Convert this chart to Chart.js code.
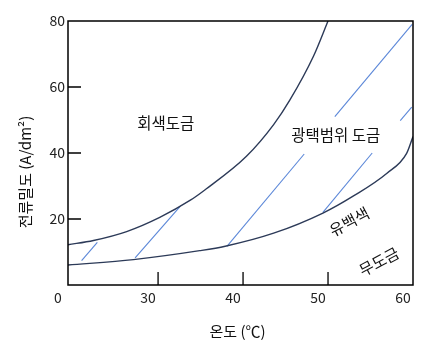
<!DOCTYPE html>
<html>
<head>
<meta charset="utf-8">
<script src="https://cdn.jsdelivr.net/npm/chart.js@4"></script>
<style>
  html, body { margin: 0; padding: 0; background: #fff; }
  #wrap { width: 435px; height: 360px; }
</style>
</head>
<body>
<div id="wrap"><canvas id="chartContainer" width="435" height="360"></canvas></div>
<script>
// 경계 곡선 (온도 ℃, 전류밀도 A/dm²) - 그림에서 읽은 값
var upperX = [19.4, 22.4, 26.3, 30.2, 33.8, 35.5, 40.4, 43.6, 45.5, 48.3, 50.0];
var upperY = [12.2, 13.5, 16.2, 20.5, 25.7, 28.8, 39.0, 48.6, 56.0, 69.4, 80.0];
var lowerX = [19.4, 27.1, 34.9, 37.9, 43.6, 49.4, 53.0, 56.9, 59.25, 60.0];
var lowerY = [6.05, 7.7, 10.4, 11.75, 15.7, 21.8, 27.0, 33.8, 39.9, 45.0];

// 광택범위 해칭 선분
var hatchStartX = [21.0, 27.3, 38.1, 49.4, 50.8, 58.5];
var hatchStartY = [7.4, 8.2, 11.7, 22.0, 51.0, 49.8];
var hatchEndX = [22.85, 32.6, 47.2, 55.2, 59.9, 59.85];
var hatchEndY = [12.9, 23.8, 39.7, 40.0, 79.0, 53.9];

var xTickValues = [19.4, 30, 40, 50, 60];
var xTickLabels = ['0', '30', '40', '50', '60'];
var yTickValues = [20, 40, 60, 80];

var regionLabels = ['회색도금', '광택범위 도금', '유백색', '무도금'];

var FONT = '"Noto Sans CJK KR", "Noto Sans", sans-serif';
var curveColor = '#2c3a58';
var hatchColor = '#5b87d8';

function toPoints(xs, ys) {
    return xs.map(function (x, i) { return { x: x, y: ys[i] }; });
}

var datasets = [
    { data: toPoints(upperX, upperY), borderColor: curveColor, borderWidth: 1.4, cubicInterpolationMode: 'monotone' },
    { data: toPoints(lowerX, lowerY), borderColor: curveColor, borderWidth: 1.4, cubicInterpolationMode: 'monotone' }
];
hatchStartX.forEach(function (x, i) {
    datasets.push({
        data: [{ x: x, y: hatchStartY[i] }, { x: hatchEndX[i], y: hatchEndY[i] }],
        borderColor: hatchColor, borderWidth: 1.1
    });
});

// 틀, 안쪽 눈금, 글자
var decor = {
    id: 'decor',
    afterDraw: function (chart) {
        var c = chart.ctx, a = chart.chartArea;
        var sx = chart.scales.x, sy = chart.scales.y;
        c.save();
        c.strokeStyle = '#000';
        c.lineWidth = 1.5;
        c.strokeRect(a.left, a.top, a.right - a.left, a.bottom - a.top);
        c.lineWidth = 1.3;
        c.beginPath();
        [30, 40, 50].forEach(function (v) {
            var px = sx.getPixelForValue(v);
            c.moveTo(px, a.bottom); c.lineTo(px, a.bottom - 13);
        });
        [20, 40, 60].forEach(function (v) {
            var py = sy.getPixelForValue(v);
            c.moveTo(a.left, py); c.lineTo(a.left + 13, py);
        });
        c.stroke();

        c.fillStyle = '#111';
        c.textAlign = 'center';
        c.textBaseline = 'middle';
        c.font = '15.5px ' + FONT;
        c.fillText(regionLabels[0], sx.getPixelForValue(30.9), sy.getPixelForValue(49.1));
        c.fillText(regionLabels[1], sx.getPixelForValue(50.9), sy.getPixelForValue(45.5));
        c.save();
        c.translate(sx.getPixelForValue(52.5), sy.getPixelForValue(19.2));
        c.rotate(-28 * Math.PI / 180);
        c.fillText(regionLabels[2], 0, 0);
        c.restore();
        c.save();
        c.translate(sx.getPixelForValue(56.0), sy.getPixelForValue(7.1));
        c.rotate(-28 * Math.PI / 180);
        c.fillText(regionLabels[3], 0, 0);
        c.restore();

        // 축 제목
        c.font = '15px ' + FONT;
        c.fillText('온도 (℃)', (a.left + a.right) / 2 - 3, 331);
        c.save();
        c.translate(25, 172);
        c.rotate(-Math.PI / 2);
        c.fillText('전류밀도 (A/dm²)', 0, 0);
        c.restore();
        c.restore();
    }
};

var ctx = document.getElementById('chartContainer').getContext('2d');
var chart = new Chart(ctx, {
    type: 'line',
    data: { datasets: datasets },
    options: {
        responsive: false,
        animation: false,
        layout: { padding: { top: 21, right: 22, left: 0, bottom: 0 } },
        elements: { point: { radius: 0 }, line: { fill: false } },
        plugins: { legend: { display: false }, tooltip: { enabled: false } },
        scales: {
            x: {
                type: 'linear',
                min: 19.4,
                max: 60,
                afterFit: function (s) { s.height = 75; },
                afterBuildTicks: function (s) {
                    s.ticks = xTickValues.map(function (v) { return { value: v }; });
                },
                grid: { display: false, drawTicks: false },
                border: { display: false },
                ticks: {
                    padding: 4,
                    labelOffset: -10,
                    maxRotation: 0,
                    autoSkip: false,
                    color: '#222',
                    font: { family: FONT, size: 14 },
                    callback: function (v) { return xTickLabels[xTickValues.indexOf(v)]; }
                }
            },
            y: {
                min: 0,
                max: 80,
                afterFit: function (s) { s.width = 68; },
                afterBuildTicks: function (s) {
                    s.ticks = yTickValues.map(function (v) { return { value: v }; });
                },
                grid: { display: false, drawTicks: false },
                border: { display: false },
                ticks: {
                    padding: 3,
                    color: '#222',
                    font: { family: FONT, size: 14 }
                }
            }
        }
    },
    plugins: [decor]
});
</script>
</body>
</html>
